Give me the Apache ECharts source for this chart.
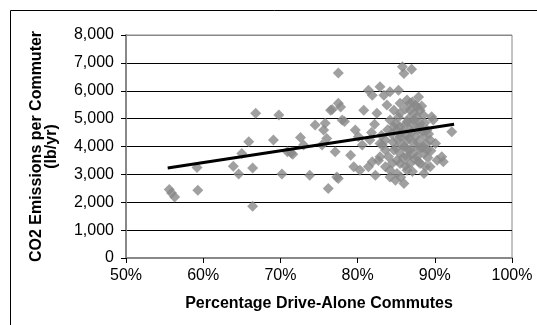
<!DOCTYPE html>
<html>
<head>
<meta charset="utf-8">
<script src="https://cdn.jsdelivr.net/npm/echarts@6/dist/echarts.min.js"></script>
<style>
  html, body { margin: 0; padding: 0; background: #fff; }
  #chart { width: 537px; height: 325px; }
</style>
</head>
<body>
<div id="chart"></div>
<script>
// percentage drive-alone commutes (%), CO2 per commuter (lb/yr)
const points = [
  [55.6, 2460], [55.9, 2330], [56.3, 2190], [59.2, 3250], [59.3, 2430],
  [63.9, 3290], [64.6, 3010], [65.0, 3750], [65.9, 4170], [66.4, 3230],
  [66.4, 1860], [66.8, 5190], [69.1, 4230], [69.8, 5130], [70.2, 3010],
  [70.9, 3810], [71.4, 3770], [71.6, 3720], [72.6, 4320], [73.0, 4050],
  [73.8, 2970], [74.5, 4770], [75.4, 4050], [75.6, 4590], [75.8, 4830],
  [76.0, 4290], [76.2, 2490], [76.5, 5300], [76.7, 5330], [77.1, 3810],
  [77.3, 2910], [77.5, 2850], [77.5, 6640], [77.5, 5550], [77.8, 5420],
  [78.0, 4950], [78.3, 4900], [79.1, 3690], [79.5, 3270], [79.7, 4590],
  [80.1, 4350], [80.3, 3150], [80.6, 4050], [80.8, 5300], [81.4, 6020],
  [81.4, 3270], [81.6, 4230], [81.9, 5840], [81.9, 3450], [82.3, 2970],
  [82.5, 5190], [82.9, 6140], [82.9, 4110], [82.9, 3630], [83.2, 4050],
  [83.4, 5840], [83.6, 4230], [83.6, 3870], [83.6, 3270], [83.8, 5490],
  [84.0, 3630], [84.2, 5960], [84.2, 4950], [84.2, 3150], [84.2, 2910],
  [84.7, 5300], [84.7, 4710], [84.7, 3870], [84.9, 2790], [85.1, 3030],
  [85.1, 4590], [85.1, 3510], [85.3, 6020], [85.5, 5550], [85.5, 5190],
  [85.5, 4710], [85.5, 4350], [85.5, 3750], [85.5, 3390], [85.8, 6860],
  [86.0, 6620], [86.0, 3990], [86.0, 2670], [86.4, 5670], [86.4, 4890],
  [86.4, 4230], [86.4, 3630], [86.4, 3150], [86.8, 5550], [86.8, 5300],
  [86.8, 4590], [86.8, 3870], [86.8, 3390], [87.0, 6770], [87.3, 5190],
  [87.3, 4950], [87.3, 4110], [87.5, 5490], [87.7, 5420], [87.7, 3870],
  [87.7, 3630], [87.9, 5780], [87.9, 4590], [88.1, 5300], [88.1, 4830],
  [88.1, 3390], [88.5, 5130], [88.5, 4350], [88.5, 3990], [88.6, 3030],
  [88.8, 3270], [89.0, 4590], [89.0, 3870], [89.4, 4230], [89.4, 3270],
  [89.6, 5070], [89.8, 4950], [90.1, 4110], [90.3, 3510], [90.9, 3630],
  [91.1, 3450], [92.2, 4530],
  [84.4, 4450], [84.6, 4150], [84.9, 4820], [85.0, 3950], [85.2, 4250],
  [85.3, 5050], [85.7, 4500], [85.8, 4050], [85.9, 3600], [86.1, 4750],
  [86.2, 5350], [86.3, 4400], [86.5, 3900], [86.6, 5000], [86.7, 4300],
  [86.9, 3700], [87.0, 4500], [87.1, 5600], [87.2, 4800], [87.4, 3550],
  [87.5, 4350], [87.6, 5050], [87.8, 4150], [87.9, 3450], [88.0, 4700],
  [88.2, 3950], [88.3, 5450], [88.4, 4550], [88.6, 3750], [88.7, 4850],
  [88.9, 4100], [89.1, 3600], [89.2, 4450], [89.5, 3850], [85.6, 2900],
  [86.2, 3300], [87.1, 3100], [84.5, 3400], [83.9, 4600], [83.1, 4400],
  [82.2, 4800], [81.8, 4500], [82.7, 3500]
];

// linear trend line end points
const trend = [[55.4, 3230], [92.5, 4800]];

const xTicks = { min: 50, max: 100, step: 10 };
const yTicks = { min: 0, max: 8000, step: 1000 };

const chart = echarts.init(document.getElementById('chart'), null, { renderer: 'canvas' });

const font = 'Liberation Sans, Arial, sans-serif';

chart.setOption({
  backgroundColor: '#ffffff',
  animation: false,
  graphic: [
    {
      type: 'rect',
      shape: { x: 10.5, y: 10.5, width: 600, height: 400 },
      style: { fill: 'none', stroke: '#000', lineWidth: 1 },
      silent: true,
    },
  ],
  grid: {
    left: 126,
    right: 25,
    top: 35,
    bottom: 67,
    show: true,
    borderColor: '#888',
    borderWidth: 1,
  },
  xAxis: {
    type: 'value',
    min: xTicks.min,
    max: xTicks.max,
    interval: xTicks.step,
    name: 'Percentage Drive-Alone Commutes',
    nameLocation: 'middle',
    nameGap: 38,
    nameTextStyle: { color: '#000', fontFamily: font, fontWeight: 'bold', fontSize: 16 },
    axisLine: { show: true, lineStyle: { color: '#888', width: 2 } },
    axisTick: { show: true, length: 5, lineStyle: { color: '#000' } },
    axisLabel: {
      color: '#000',
      fontFamily: font,
      fontSize: 16,
      margin: 10,
      formatter: (v) => v + '%',
    },
    splitLine: { show: false },
  },
  yAxis: {
    type: 'value',
    min: yTicks.min,
    max: yTicks.max,
    interval: yTicks.step,
    name: 'CO2 Emissions per Commuter\n(lb/yr)',
    nameLocation: 'middle',
    nameRotate: 90,
    nameGap: 67,
    nameTextStyle: {
      color: '#000',
      fontFamily: font,
      fontWeight: 'bold',
      fontSize: 16,
      lineHeight: 15,
    },
    axisLine: { show: true, lineStyle: { color: '#888', width: 2 } },
    axisTick: { show: true, length: 5, lineStyle: { color: '#000' } },
    axisLabel: {
      color: '#000',
      fontFamily: font,
      fontSize: 16,
      margin: 12,
      formatter: (v) => v.toLocaleString('en-US'),
    },
    splitLine: {
      show: true,
      lineStyle: {
        color: ['#888', '#000', '#000', '#000', '#000', '#000', '#000', '#000', '#888'],
        width: 1,
      },
    },
  },
  series: [
    {
      name: 'Cities',
      type: 'scatter',
      data: points,
      symbol: 'diamond',
      symbolSize: 11,
      itemStyle: { color: '#888888' },
      z: 2,
    },
    {
      name: 'Trend',
      type: 'line',
      data: trend,
      symbol: 'none',
      lineStyle: { color: '#000', width: 3 },
      z: 3,
    },
  ],
});
</script>
</body>
</html>
